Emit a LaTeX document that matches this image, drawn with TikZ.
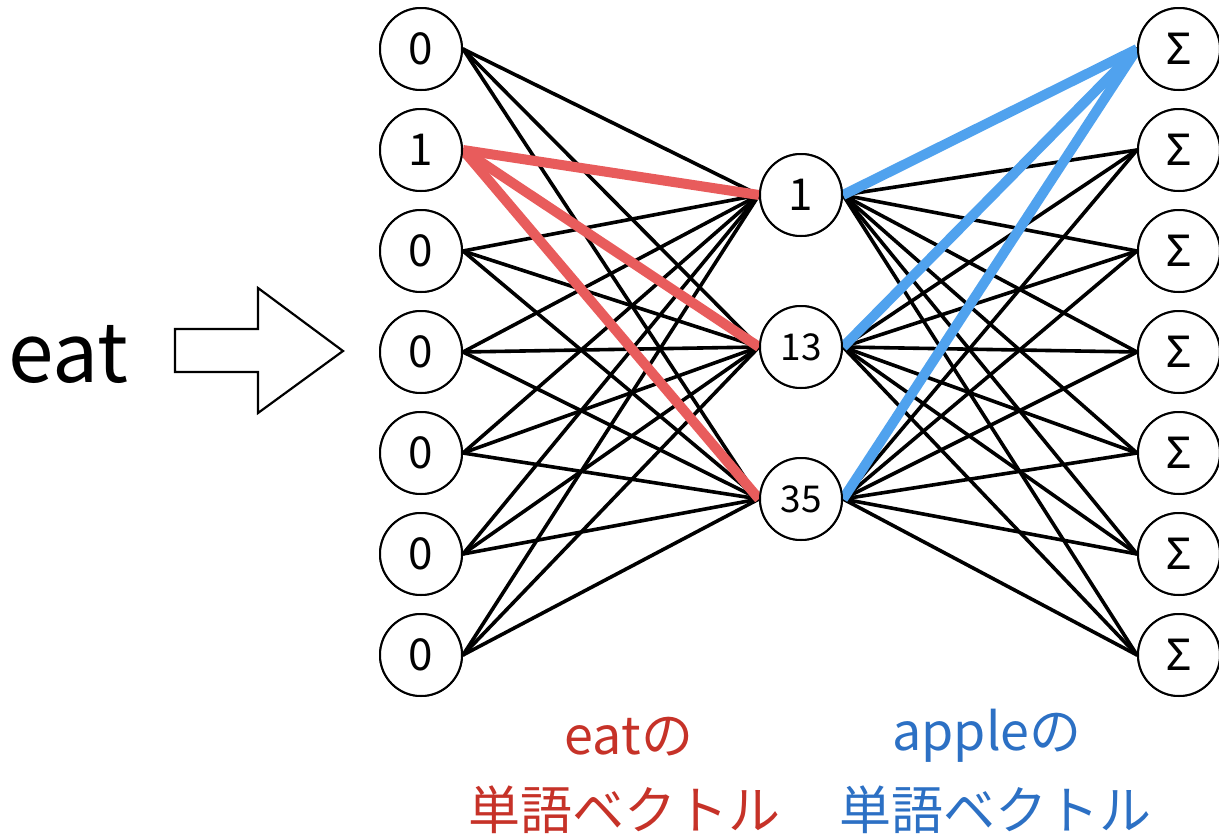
\documentclass[tikz,border=0pt]{standalone}
\usepackage{fontspec}
\setmainfont{Noto Sans CJK JP}
\newfontfamily\sigmafont{Noto Sans}
\definecolor{lred}{RGB}{232,92,92}
\definecolor{lblue}{RGB}{80,162,238}
\definecolor{tred}{RGB}{198,50,40}
\definecolor{tblue}{RGB}{44,112,196}
\tikzset{
  neuron/.style={circle, draw, line width=2pt, fill=white, minimum size=82pt, inner sep=0pt, font=\fontsize{44}{44}\selectfont},
  smalltxt/.style={font=\fontsize{37}{37}\selectfont},
  wire/.style={line width=3.6pt, line cap=round},
  redwire/.style={line width=10pt, color=lred},
  bluewire/.style={line width=10pt, color=lblue},
  bigarrow/.style={draw, line width=2.2pt, fill=white, line join=miter},
  label/.style={font=\fontsize{52}{60}\selectfont, anchor=base, inner sep=0pt},
}
\begin{document}
\begin{tikzpicture}[x=1pt,y=-1pt]
\useasboundingbox (0,0) rectangle (1219,836);
% coordinates for nodes
\foreach \v [count=\i] in {49,150,251,352,453,554,655}{
  \coordinate (pL\i) at (421,\v);
  \coordinate (pR\i) at (1179,\v);
}
\coordinate (pM1) at (801,195);
\coordinate (pM2) at (801,347);
\coordinate (pM3) at (801,499);
% nodes (drawn first for anchors, redrawn later on top)
\foreach \i/\t in {1/0,2/1,3/0,4/0,5/0,6/0,7/0}{
  \node[neuron] (L\i) at (pL\i) {\t};
  \node[neuron] (R\i) at (pR\i) {\sigmafont\char"03A3};
}
\node[neuron] (M1) at (pM1) {1};
\node[neuron, smalltxt] (M2) at (pM2) {13};
\node[neuron, smalltxt] (M3) at (pM3) {35};
% black wires
\foreach \i in {1,...,7}{
  \foreach \j in {1,2,3}{
    \draw[wire] (L\i.east) -- (M\j.west);
    \draw[wire] (M\j.east) -- (R\i.west);
  }
}
% highlighted wires
\foreach \j in {1,2,3}{
  \draw[redwire] (L2.east) -- (M\j.west);
  \draw[bluewire] (M\j.east) -- (R1.west);
}
% redraw nodes on top
\foreach \i/\t in {1/0,2/1,3/0,4/0,5/0,6/0,7/0}{
  \node[neuron] at (pL\i) {\t};
  \node[neuron] at (pR\i) {\sigmafont\char"03A3};
}
\node[neuron] at (pM1) {1};
\node[neuron, smalltxt] at (pM2) {13};
\node[neuron, smalltxt] at (pM3) {35};
% input word and block arrow
\node[font=\fontsize{82}{90}\selectfont, anchor=base, inner sep=0pt] (word) at (68,382) {eat};
\draw[bigarrow] (175,329) -- (258,329) -- (258,288) -- (343,351) -- (258,413) -- (258,372) -- (175,372) -- cycle;
% labels
\node[label, text=tred] (eatlab) at (629,754) {eatの};
\node[label, text=tred] (eatvec) at (624,829) {単語ベクトル};
\node[label, text=tblue] (applelab) at (987,750) {appleの};
\node[label, text=tblue] (applevec) at (995,829) {単語ベクトル};
\end{tikzpicture}
\end{document}
